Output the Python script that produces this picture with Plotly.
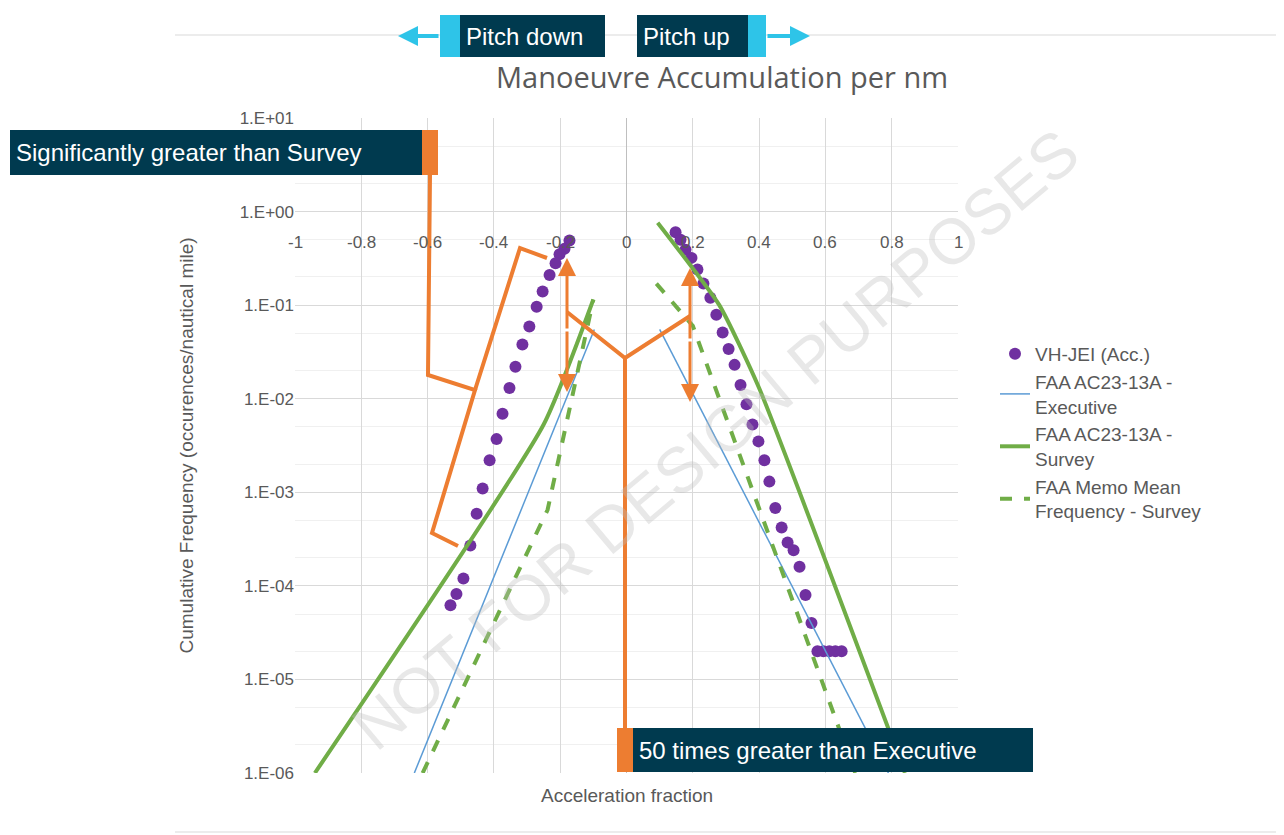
import plotly.graph_objects as go

# VH-JEI measured points
jei_left_x = [-0.172, -0.187, -0.202, -0.214, -0.232, -0.253, -0.271, -0.293, -0.314, -0.335,
              -0.353, -0.374, -0.392, -0.413, -0.434, -0.452, -0.471, -0.492, -0.513, -0.531]
jei_left_y = [0.49, 0.40, 0.35, 0.28, 0.21, 0.14, 0.096, 0.059, 0.038, 0.022,
              0.013, 0.0069, 0.0037, 0.0022, 0.0011, 0.00059, 0.00027, 0.00012, 0.000082, 0.000062]
jei_right_x = [0.148, 0.163, 0.178, 0.196, 0.214, 0.232, 0.253, 0.271, 0.290, 0.308, 0.326, 0.344,
               0.362, 0.380, 0.398, 0.416, 0.431, 0.449, 0.468, 0.486, 0.504, 0.522, 0.540, 0.558,
               0.576, 0.594, 0.612, 0.630, 0.649]
jei_right_y = [0.60, 0.50, 0.39, 0.32, 0.24, 0.17, 0.12, 0.079, 0.051, 0.034, 0.023, 0.014,
               0.0087, 0.0053, 0.0035, 0.0022, 0.0013, 0.00068, 0.00042, 0.00029, 0.00024, 0.00016,
               0.00008, 0.00004, 0.00002, 0.00002, 0.00002, 0.00002, 0.00002]

exec_x = [-0.64, -0.097, None, 0.1, 0.79]
exec_y = [1e-6, 0.055, None, 0.055, 1e-6]
survey_x = [-0.94, -0.25, -0.1, None, 0.094, 0.28, 0.4, 0.84]
survey_y = [1e-6, 0.0053, 0.115, None, 0.76, 0.1, 0.013, 1e-6]
memo_x = [-0.615, -0.238, -0.1, None, 0.09, 0.2, 0.69]
memo_y = [1e-6, 0.00065, 0.115, None, 0.17, 0.06, 1e-6]

y_ticks = [1e-6, 1e-5, 1e-4, 1e-3, 1e-2, 1e-1, 1, 10]
y_labels = ["1.E-06", "1.E-05", "1.E-04", "1.E-03", "1.E-02", "1.E-01", "1.E+00", "1.E+01"]
x_ticks = [-1, -0.8, -0.6, -0.4, -0.2, 0, 0.2, 0.4, 0.6, 0.8, 1]

GREY = "#595959"
ORANGE = "#ED7D31"
NAVY = "#003A4F"
CYAN = "#2EC4E8"
OFF = 8  # page margin of the browser
L, R, T, B = 295 - OFF, 958 - OFF, 118 - OFF, 773 - OFF


def px(x):
    return (x - OFF - L) / (R - L)


def py(y):
    return (B - (y - OFF)) / (B - T)


fig = go.Figure()
fig.add_trace(go.Scatter(x=jei_left_x + [None] + jei_right_x, y=jei_left_y + [None] + jei_right_y,
                         mode="markers", name="VH-JEI (Acc.)",
                         marker=dict(color="#7030A0", size=12)))
fig.add_trace(go.Scatter(x=exec_x, y=exec_y, mode="lines", name="FAA AC23-13A -<br>Executive",
                         line=dict(color="#5B9BD5", width=1.5)))
fig.add_trace(go.Scatter(x=survey_x, y=survey_y, mode="lines", name="FAA AC23-13A -<br>Survey",
                         line=dict(color="#70AD47", width=4, shape="spline", smoothing=0.5)))
fig.add_trace(go.Scatter(x=memo_x, y=memo_y, mode="lines", name="FAA Memo Mean<br>Frequency - Survey",
                         line=dict(color="#70AD47", width=4, dash="dash")))

shapes = []
annotations = []


def pline(pts, color=ORANGE, width=4):
    path = "M " + " L ".join(f"{px(a)},{py(b)}" for a, b in pts)
    shapes.append(dict(type="path", path=path, xref="paper", yref="paper",
                       line=dict(color=color, width=width)))


def prect(x0, y0, x1, y1, color):
    shapes.append(dict(type="rect", xref="paper", yref="paper", x0=px(x0), x1=px(x1),
                       y0=py(y1), y1=py(y0), fillcolor=color, line=dict(width=0), layer="above"))


def tbox(x0, y0, x1, y1, text):
    annotations.append(dict(x=px((x0 + x1) / 2), y=py((y0 + y1) / 2), xref="paper", yref="paper",
                            xanchor="center", yanchor="middle", showarrow=False, text=text,
                            width=x1 - x0 - 12, height=y1 - y0 - 12, bgcolor=NAVY, borderpad=0,
                            borderwidth=6, bordercolor=NAVY, align="left",
                            font=dict(color="white", size=24, family="Liberation Sans, Arial")))


def arrow(x0, y0, x1, y1, color=ORANGE, width=3, size=1.2):
    annotations.append(dict(x=px(x1), y=py(y1), ax=x0 - x1, ay=y0 - y1, xref="paper", yref="paper",
                            axref="pixel", ayref="pixel", text="", showarrow=True, arrowhead=2,
                            arrowsize=size, arrowwidth=width, arrowcolor=color))


# page rules
shapes.append(dict(type="line", xref="paper", yref="paper", x0=px(175), x1=px(1290), y0=py(35), y1=py(35),
                   line=dict(color="#D9D9D9", width=1)))
shapes.append(dict(type="line", xref="paper", yref="paper", x0=px(175), x1=px(1290), y0=py(832), y1=py(832),
                   line=dict(color="#D9D9D9", width=1)))

# orange callouts
pline([(430, 175), (428, 375), (475, 390), (432, 533), (458, 546)])
pline([(475, 390), (520, 248), (547, 258)])
pline([(567, 312), (625, 358), (690, 316)])
pline([(625, 358), (625, 740)])
arrow(567, 330, 567, 258)
arrow(567, 330, 567, 392)
arrow(690, 340, 690, 268)
arrow(690, 340, 690, 402)

# text boxes
tbox(10, 130, 422, 175, "Significantly greater than Survey")
prect(422, 130, 438, 175, ORANGE)
tbox(633, 728, 1033, 772, "50 times greater than Executive")
prect(617, 728, 633, 772, ORANGE)
tbox(460, 15, 605, 57, "Pitch down")
prect(440, 15, 460, 57, CYAN)
arrow(440, 36, 398, 36, color=CYAN, width=4, size=1)
tbox(637, 15, 748, 57, "Pitch up")
prect(748, 15, 766, 57, CYAN)
arrow(766, 36, 810, 36, color=CYAN, width=4, size=1)

# x tick labels along y = 1
for v in x_ticks:
    annotations.append(dict(x=v, y=py(242), xref="x", yref="paper", showarrow=False,
                            xanchor="center", yanchor="middle",
                            text=f"{v:g}", font=dict(color=GREY, size=17)))

annotations.append(dict(x=px(627), y=py(795), xref="paper", yref="paper", showarrow=False,
                        xanchor="center", yanchor="middle",
                        text="Acceleration fraction", font=dict(color=GREY, size=19)))

# watermark
annotations.append(dict(x=px(715), y=py(440), xref="paper", yref="paper", showarrow=False,
                        xanchor="center", yanchor="middle",
                        text="NOT FOR DESIGN PURPOSES", textangle=-40,
                        font=dict(color="rgba(190,190,190,0.35)", size=64)))

fig.update_layout(
    width=1284, height=835,
    margin=dict(l=L, r=1284 - R, t=T, b=835 - B),
    paper_bgcolor="white", plot_bgcolor="white",
    font=dict(family="Liberation Sans, Arial", color=GREY),
    title=dict(text="Manoeuvre Accumulation per nm", x=px(722), xref="paper", y=1 - (78 - OFF) / 835,
               xanchor="center", yanchor="middle",
               font=dict(family="Open Sans", size=29, color=GREY)),
    showlegend=True,
    legend=dict(x=px(995), y=py(335), xanchor="left", yanchor="top", bgcolor="rgba(0,0,0,0)",
                font=dict(size=19, color=GREY), tracegroupgap=18),
    shapes=shapes, annotations=annotations,
)
fig.update_xaxes(range=[-1, 1], tickvals=x_ticks, showticklabels=False, showgrid=True,
                 gridcolor="#D9D9D9", zeroline=True, zerolinecolor="#BFBFBF", zerolinewidth=1,
                 showline=False)
fig.update_yaxes(type="log", range=[-6, 1], tickvals=y_ticks, ticktext=y_labels,
                 tickfont=dict(size=17, color=GREY), showgrid=True, gridcolor="#D9D9D9",
                 minor=dict(showgrid=True, gridcolor="#F0F0F0"), zeroline=False,
                 title=dict(text="Cumulative Frequency (occurences/nautical mile)",
                            font=dict(size=19, color=GREY), standoff=40))
fig.write_html("out.html")
